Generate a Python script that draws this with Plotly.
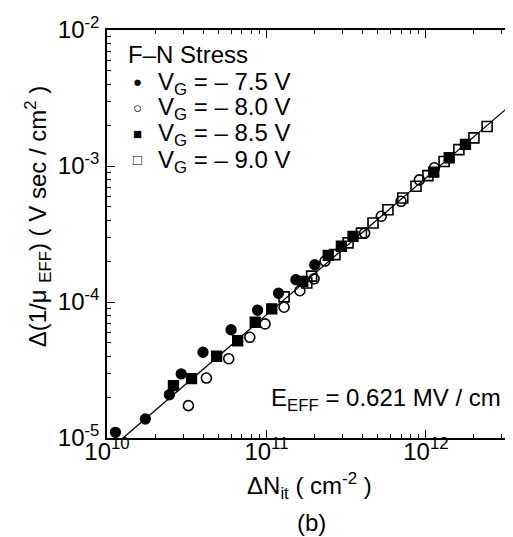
import numpy as np
import plotly.graph_objects as go

# ---- data ----
vg75_x = [1.13e10, 1.74e10, 2.46e10, 2.92e10, 4.0e10, 6.0e10, 8.8e10, 1.19e11, 1.53e11, 2.01e11]
vg75_y = [1.10e-5, 1.38e-5, 2.08e-5, 2.96e-5, 4.27e-5, 6.25e-5, 8.7e-5, 1.16e-4, 1.46e-4, 1.88e-4]

vg80_x = [3.24e10, 4.2e10, 5.8e10, 7.86e10, 9.8e10, 1.29e11, 1.62e11, 1.99e11, 2.33e11,
          4.13e11, 5.25e11, 6.98e11, 9.1e11, 1.13e12]
vg80_y = [1.73e-5, 2.76e-5, 3.83e-5, 5.5e-5, 6.9e-5, 9.15e-5, 1.21e-4, 1.48e-4, 2.0e-4,
          3.21e-4, 4.27e-4, 5.5e-4, 7.9e-4, 9.7e-4]

vg85_x = [2.61e10, 3.39e10, 4.87e10, 6.6e10, 8.5e10, 1.08e11, 1.69e11, 2.44e11, 2.95e11,
          3.49e11, 1.12e12, 1.40e12, 1.77e12]
vg85_y = [2.43e-5, 2.73e-5, 3.99e-5, 5.19e-5, 7.1e-5, 8.9e-5, 1.42e-4, 2.2e-4, 2.57e-4,
          3.04e-4, 9.0e-4, 1.15e-3, 1.44e-3]

vg90_x = [1.29e11, 1.79e11, 1.92e11, 2.69e11, 3.25e11, 3.94e11, 4.66e11, 5.78e11, 7.16e11,
          8.67e11, 1.03e12, 1.30e12, 1.61e12, 2.0e12, 2.42e12]
vg90_y = [1.09e-4, 1.38e-4, 1.55e-4, 2.23e-4, 2.72e-4, 3.21e-4, 3.81e-4, 4.77e-4, 5.82e-4,
          7.1e-4, 8.5e-4, 1.08e-3, 1.32e-3, 1.61e-3, 1.95e-3]

fit_x = [1.26e10, 4.0e12]
fit_y = [1.0e-5, 3.3e-3]

series_names = ["V<sub>G</sub> = \u2013 7.5 V", "V<sub>G</sub> = \u2013 8.0 V",
                "V<sub>G</sub> = \u2013 8.5 V", "V<sub>G</sub> = \u2013 9.0 V"]
legend_symbols = ["\u25CF", "\u25CB", "\u25A0", "\u25A1"]

x_ticks = [1e10, 1e11, 1e12]
x_ticktext = ["10<sup>10</sup>", "10<sup>11</sup>", "10<sup>12</sup>"]
y_ticks = [1e-5, 1e-4, 1e-3, 1e-2]
y_ticktext = ["10<sup>-5</sup>", "10<sup>-4</sup>", "10<sup>-3</sup>", "10<sup>-2</sup>"]

FONT = "Liberation Sans, Arial, Helvetica, sans-serif"

fig = go.Figure()

fig.add_trace(go.Scatter(x=fit_x, y=fit_y, mode="lines",
                         line=dict(color="black", width=1.3), showlegend=False, hoverinfo="skip"))

styles = [
    dict(symbol="circle", color="black", line=dict(color="black", width=1.3)),
    dict(symbol="circle-open", color="black", line=dict(color="black", width=1.6)),
    dict(symbol="square", color="black", line=dict(color="black", width=1.3)),
    dict(symbol="square-open", color="black", line=dict(color="black", width=1.6)),
]
data = [(vg75_x, vg75_y), (vg80_x, vg80_y), (vg85_x, vg85_y), (vg90_x, vg90_y)]
for (xs, ys), st, nm in zip(data, styles, series_names):
    fig.add_trace(go.Scatter(x=xs, y=ys, mode="markers", name=nm,
                             marker=dict(size=10, **st), showlegend=False))

# minor tick positions (2..9 in each decade)
x_minor = [m * 10.0 ** d for d in range(10, 13) for m in range(2, 10)]
y_minor = [m * 10.0 ** d for d in range(-5, -2) for m in range(2, 10)]

axis_common = dict(type="log", showgrid=False, zeroline=False, showline=True,
                   linecolor="black", linewidth=1.5, mirror="ticks",
                   ticks="inside", ticklen=8, tickwidth=1.3, tickcolor="black",
                   tickfont=dict(family=FONT, size=24, color="black"))

fig.update_xaxes(range=[10, 12.565], tickmode="array", tickvals=x_ticks, ticktext=x_ticktext,
                 minor=dict(tickmode="array", tickvals=x_minor, ticks="inside", ticklen=4,
                            tickwidth=1, tickcolor="black", showgrid=False),
                 ticklabelstandoff=-9,
                 **axis_common)
fig.update_yaxes(range=[-5, -2], tickmode="array", tickvals=y_ticks, ticktext=y_ticktext,
                 minor=dict(tickmode="array", tickvals=y_minor, ticks="inside", ticklen=4,
                            tickwidth=1, tickcolor="black", showgrid=False),
                 ticklabelstandoff=1,
                 **axis_common)

annotations = []
# legend block
annotations.append(dict(text="F\u2013N Stress", x=118, y=537 - 46, xanchor="left", yanchor="middle"))
row_y = [73, 99, 125, 151]
for sym, nm, yy in zip(legend_symbols, series_names, row_y):
    annotations.append(dict(text="<span style='font-size:15px'>" + sym + "</span>",
                            x=130, y=537 - yy, xanchor="center", yanchor="middle"))
    annotations.append(dict(text=nm, x=148, y=537 - yy - 2, xanchor="left", yanchor="middle"))
annotations.append(dict(text="E<sub>EFF</sub> = 0.621 MV / cm", x=497, y=537 - 391,
                        xanchor="right", yanchor="middle"))
annotations.append(dict(text="\u0394N<sub>it</sub> ( cm<sup>-2</sup> )", x=302, y=537 - 478,
                        xanchor="center", yanchor="middle"))
annotations.append(dict(text="(b)", x=304, y=537 - 514, xanchor="center", yanchor="middle"))
annotations.append(dict(text="\u0394(1/\u03bc <sub>EFF</sub>) ( V sec / cm<sup>2</sup> )",
                        x=30, y=537 - 208, xanchor="center", yanchor="middle",
                        textangle=-90))

W, H = 513, 537
l, r, t, b = 99, 3, 22, 107
for a in annotations:
    a["xref"] = "paper"
    a["yref"] = "paper"
    a["showarrow"] = False
    a["x"] = (a["x"] - l) / (W - l - r)
    a["y"] = (a["y"] - b) / (H - t - b)
    a["font"] = dict(family=FONT, size=24, color="black")

fig.update_layout(width=W, height=H, margin=dict(l=l, r=r, t=t, b=b, pad=0),
                  paper_bgcolor="white", plot_bgcolor="white", showlegend=False,
                  annotations=annotations, font=dict(family=FONT, size=24, color="black"))

fig.write_html("out.html")
